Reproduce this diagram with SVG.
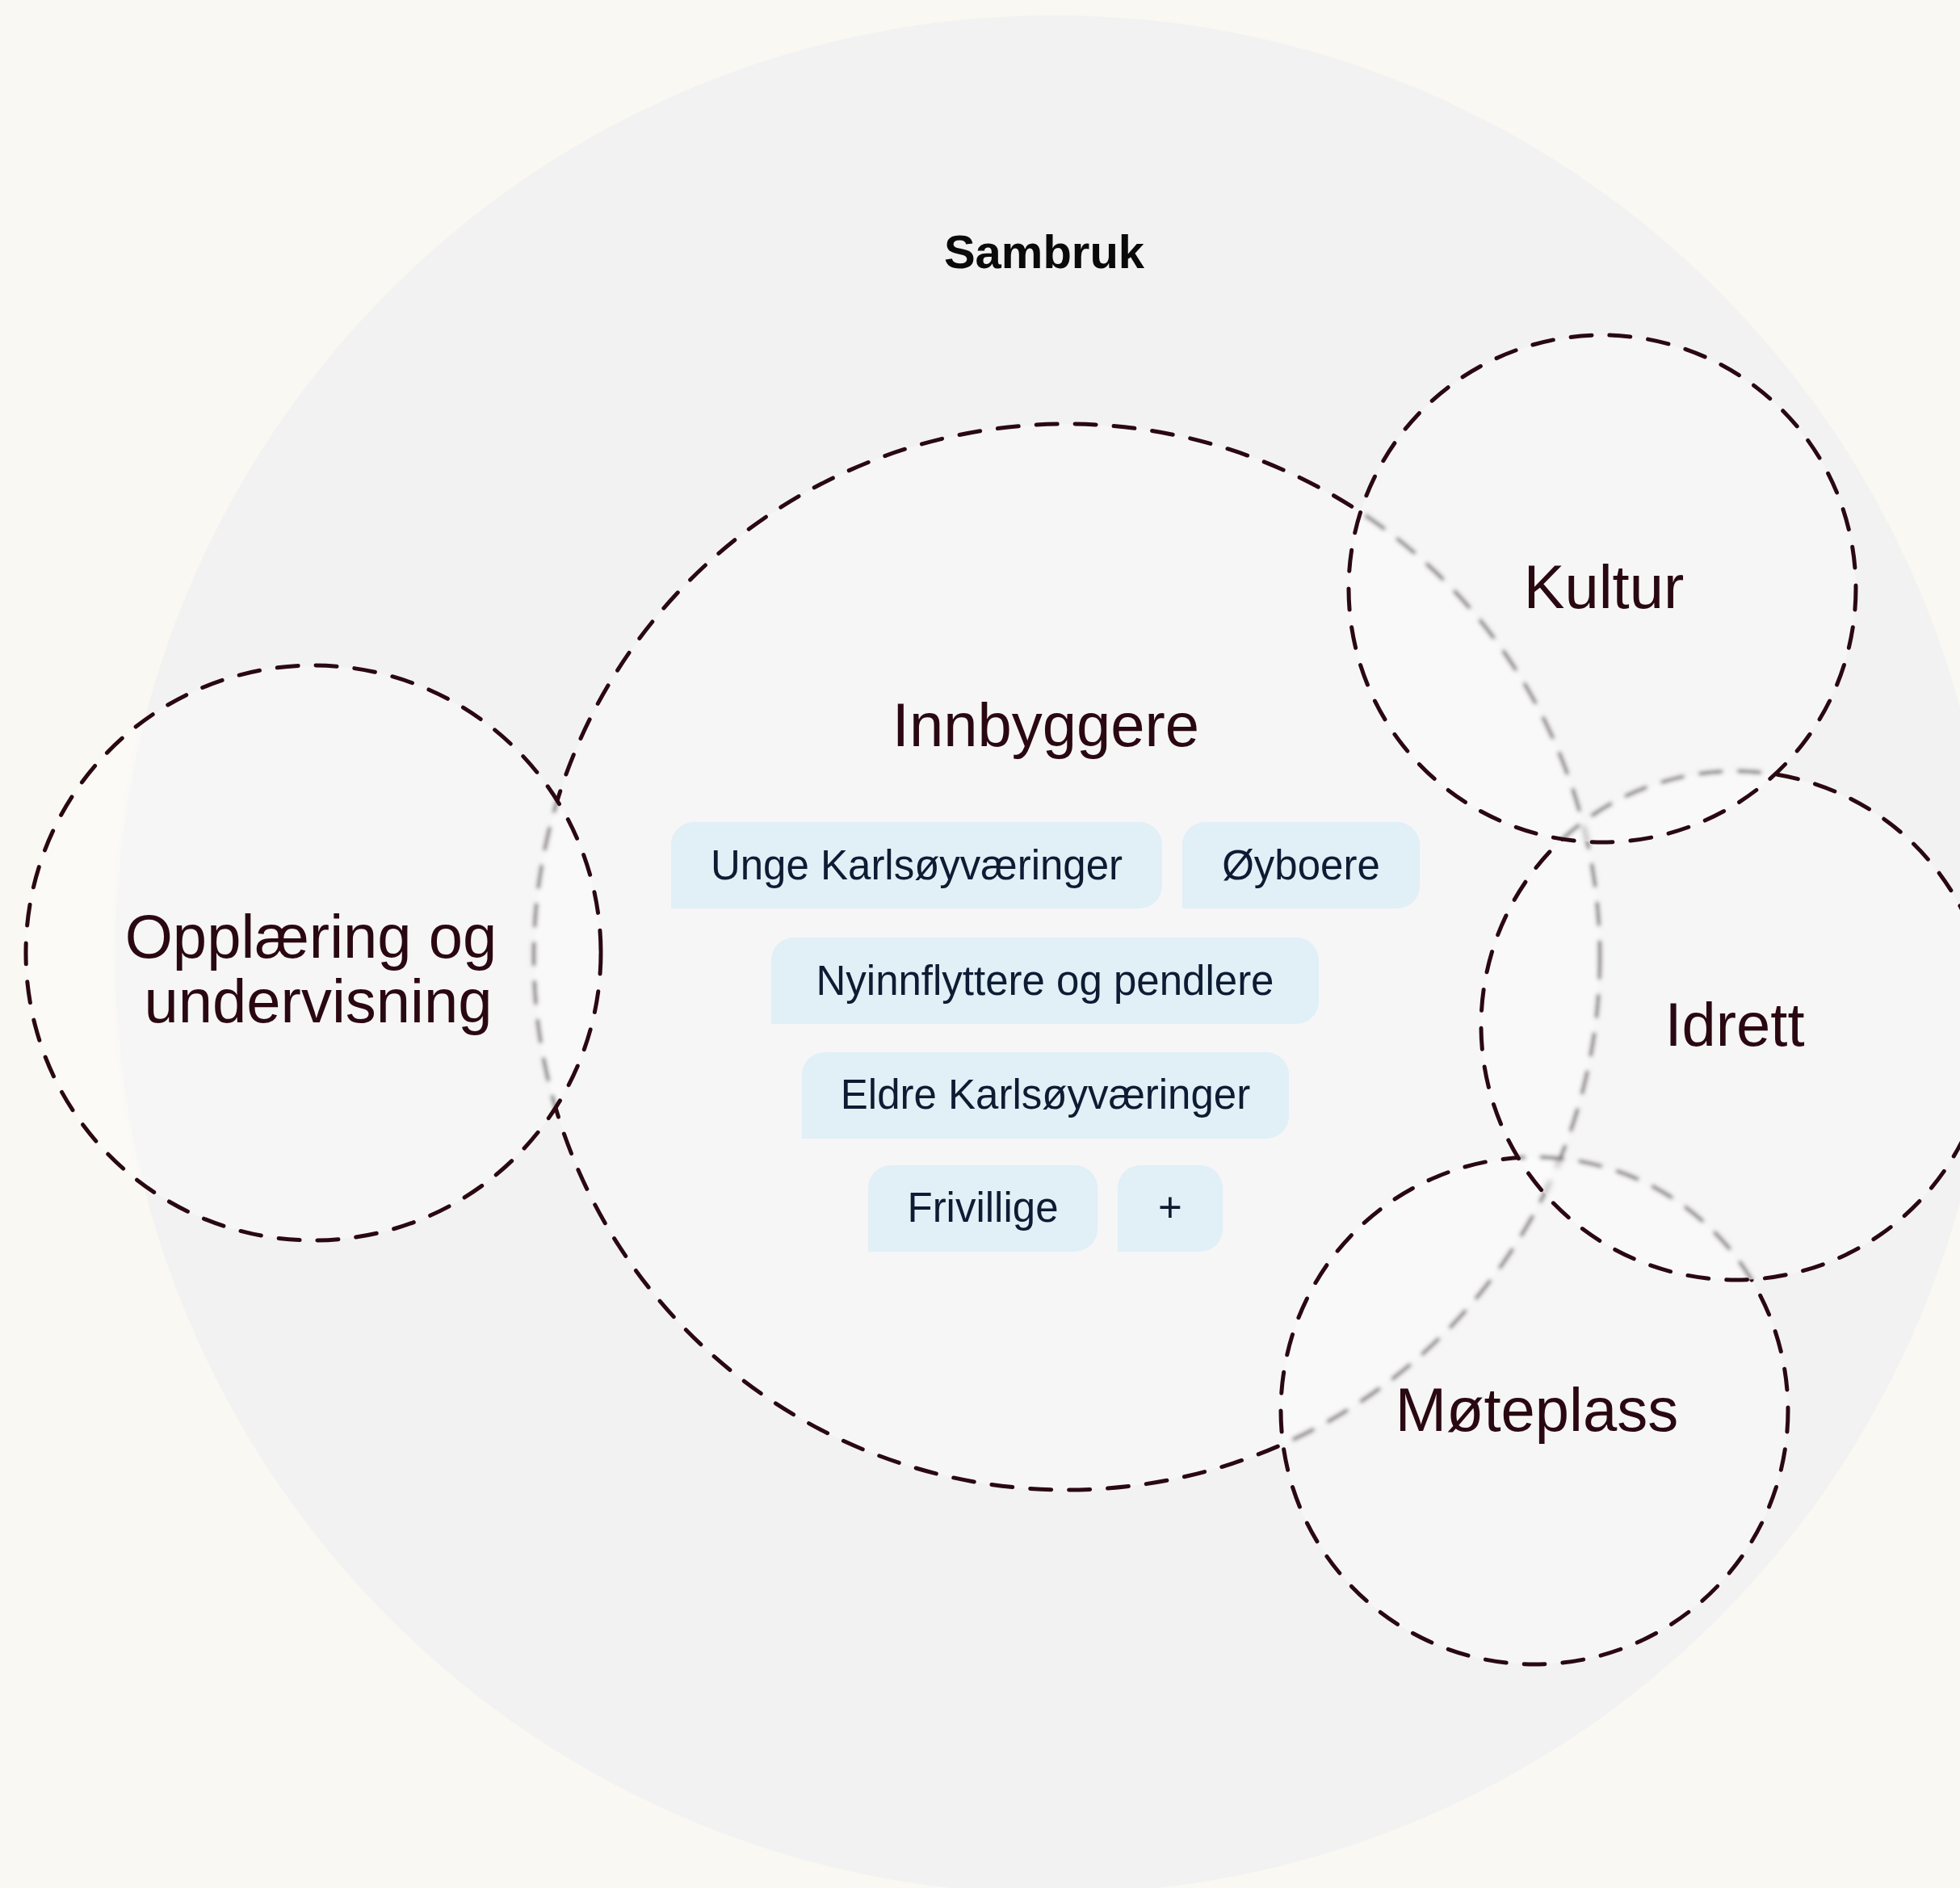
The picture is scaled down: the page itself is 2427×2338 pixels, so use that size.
<svg xmlns="http://www.w3.org/2000/svg" xmlns:xlink="http://www.w3.org/1999/xlink" width="2427" height="2338" viewBox="0 0 2427 2338">
<style>
.ring{fill:none;stroke:#2a0812;stroke-width:5;stroke-dasharray:26 22;stroke-linecap:round}
.frost{fill:#ffffff;fill-opacity:0.3}
.big{font-family:"Liberation Sans",Arial,sans-serif;font-size:76px;fill:#2a0812;text-anchor:middle}
.chip{fill:#e1eff7}
.ct{font-family:"Liberation Sans",Arial,sans-serif;font-size:51px;fill:#0d1b33;text-anchor:middle}
.title{font-family:"Liberation Sans",Arial,sans-serif;font-size:58px;font-weight:bold;fill:#0a0a0a;text-anchor:middle}
</style>
<defs>
<filter id="blur" x="-2%" y="-2%" width="104%" height="104%"><feGaussianBlur stdDeviation="2.4"/></filter>
<clipPath id="clipO"><circle cx="388" cy="1180" r="356"/></clipPath>
<clipPath id="clipM"><circle cx="1900" cy="1747" r="314"/></clipPath>
<clipPath id="clipI"><circle cx="2149" cy="1270" r="315"/></clipPath>
<clipPath id="clipK"><circle cx="1984" cy="729" r="314"/></clipPath>
</defs>
<g id="background">
<rect x="0" y="0" width="2427" height="2338" fill="#f9f8f3"/>
<circle cx="1305" cy="1182" r="1163" fill="#f2f2f2"/>
</g>
<g id="node-sambruk">
<text class="title" x="1293" y="332">Sambruk</text>
</g>
<g id="node-innbyggere">
<circle cx="1321" cy="1185" r="660" fill="#f6f6f6"/>
<circle class="ring" cx="1321" cy="1185" r="660"/>
<text class="big" x="1295" y="924">Innbyggere</text>
</g>
<g id="chip-unge">
<path class="chip" d="M859,1018 H1411 A28,28 0 0 1 1439,1046 V1097 A28,28 0 0 1 1411,1125 H831 V1046 A28,28 0 0 1 859,1018 Z"/>
<text class="ct" x="1135" y="1089">Unge Karlsøyværinger</text>
</g>
<g id="chip-oyboere">
<path class="chip" d="M1492,1018 H1730 A28,28 0 0 1 1758,1046 V1097 A28,28 0 0 1 1730,1125 H1464 V1046 A28,28 0 0 1 1492,1018 Z"/>
<text class="ct" x="1611" y="1089">Øyboere</text>
</g>
<g id="chip-nyinnflyttere">
<path class="chip" d="M983,1161 H1605 A28,28 0 0 1 1633,1189 V1240 A28,28 0 0 1 1605,1268 H955 V1189 A28,28 0 0 1 983,1161 Z"/>
<text class="ct" x="1294" y="1232">Nyinnflyttere og pendlere</text>
</g>
<g id="chip-eldre">
<path class="chip" d="M1021,1303 H1568 A28,28 0 0 1 1596,1331 V1382 A28,28 0 0 1 1568,1410 H993 V1331 A28,28 0 0 1 1021,1303 Z"/>
<text class="ct" x="1294.5" y="1373">Eldre Karlsøyværinger</text>
</g>
<g id="chip-frivillige">
<path class="chip" d="M1103,1443 H1331 A28,28 0 0 1 1359,1471 V1522 A28,28 0 0 1 1331,1550 H1075 V1471 A28,28 0 0 1 1103,1443 Z"/>
<text class="ct" x="1217" y="1513">Frivillige</text>
</g>
<g id="chip-pluss">
<path class="chip" d="M1412,1443 H1486 A28,28 0 0 1 1514,1471 V1522 A28,28 0 0 1 1486,1550 H1384 V1471 A28,28 0 0 1 1412,1443 Z"/>
<text class="ct" x="1449" y="1513">+</text>
</g>
<g id="node-opplaering">
<g clip-path="url(#clipO)">
<g filter="url(#blur)"><use xlink:href="#background"/><use xlink:href="#node-innbyggere"/></g>
<circle class="frost" cx="388" cy="1180" r="356"/>
</g>
<circle class="ring" cx="388" cy="1180" r="356"/>
<text class="big" x="385" y="1186">Opplæring og</text>
<text class="big" x="394" y="1266">undervisning</text>
</g>
<g id="node-moteplass">
<g clip-path="url(#clipM)">
<g filter="url(#blur)"><use xlink:href="#background"/><use xlink:href="#node-innbyggere"/></g>
<circle class="frost" cx="1900" cy="1747" r="314"/>
</g>
<circle class="ring" cx="1900" cy="1747" r="314"/>
<text class="big" x="1903" y="1772">Møteplass</text>
</g>
<g id="node-idrett">
<g clip-path="url(#clipI)">
<g filter="url(#blur)"><use xlink:href="#background"/><use xlink:href="#node-innbyggere"/><use xlink:href="#node-moteplass"/></g>
<circle class="frost" cx="2149" cy="1270" r="315"/>
</g>
<circle class="ring" cx="2149" cy="1270" r="315"/>
<text class="big" x="2148" y="1295">Idrett</text>
</g>
<g id="node-kultur">
<g clip-path="url(#clipK)">
<g filter="url(#blur)"><use xlink:href="#background"/><use xlink:href="#node-innbyggere"/><use xlink:href="#node-idrett"/></g>
<circle class="frost" cx="1984" cy="729" r="314"/>
</g>
<circle class="ring" cx="1984" cy="729" r="314"/>
<text class="big" x="1986" y="753">Kultur</text>
</g>
<g id="connectors"/>
</svg>
